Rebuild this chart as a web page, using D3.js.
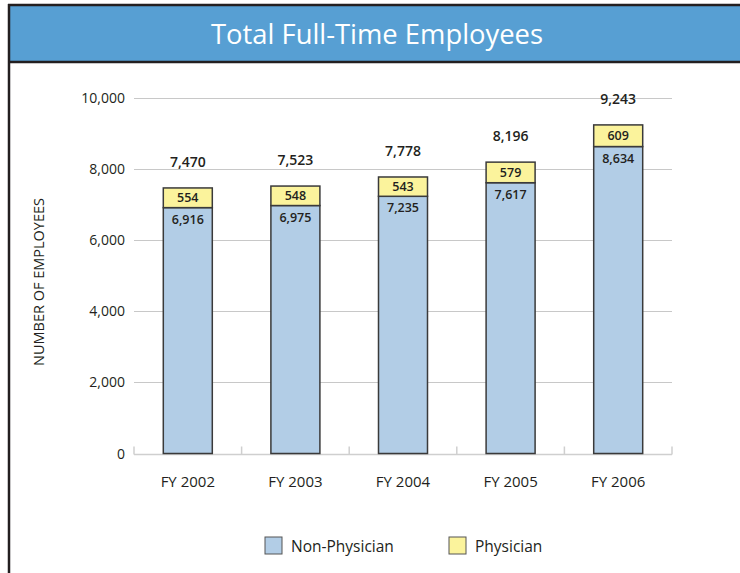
<!DOCTYPE html>
<html>
<head>
<meta charset="utf-8">
<script src="https://cdn.jsdelivr.net/npm/d3@7"></script>
<style>
html,body{margin:0;padding:0;background:#fff;}
svg{display:block;}
text{font-family:"Open Sans","Noto Sans",sans-serif;}
</style>
</head>
<body>
<svg id="chart" width="740" height="573"></svg>
<script>
const categories = ["FY 2002","FY 2003","FY 2004","FY 2005","FY 2006"];
const nonPhysician = [6916, 6975, 7235, 7617, 8634];
const physician = [554, 548, 543, 579, 609];
const totals = [7470, 7523, 7778, 8196, 9243];
const yTicks = [0, 2000, 4000, 6000, 8000, 10000];
const seriesNames = ["Non-Physician", "Physician"];
const seriesColors = ["#b2cde6", "#fbf39c"];

const svg = d3.select("#chart");
const W = 740, H = 573;

// frame
svg.append("rect").attr("x",8).attr("y",6).attr("width",W-8).attr("height",56).attr("fill","#579fd3");
svg.append("line").attr("x1",8).attr("x2",W).attr("y1",5).attr("y2",5).attr("stroke","#231f20").attr("stroke-width",2.5);
svg.append("line").attr("x1",8).attr("x2",W).attr("y1",62).attr("y2",62).attr("stroke","#231f20").attr("stroke-width",2.5);
svg.append("line").attr("x1",9).attr("x2",9).attr("y1",4).attr("y2",H).attr("stroke","#231f20").attr("stroke-width",2.5);
svg.append("text").attr("x",377).attr("y",44).attr("text-anchor","middle")
  .attr("fill","#fff").attr("font-size",28)
  .attr("textLength",332).attr("lengthAdjust","spacingAndGlyphs")
  .text("Total Full-Time Employees");

const x = d3.scaleBand().domain(categories).range([134, 672]).paddingInner(0).paddingOuter(0);
const y = d3.scaleLinear().domain([0, 10000]).range([453.5, 98]);
const barW = 49;

// gridlines
const gAxis = svg.append("g");
gAxis.selectAll("line.grid").data(yTicks.filter(d => d > 0)).join("line")
  .attr("x1",134).attr("x2",672).attr("y1",d=>Math.round(y(d))+0.5).attr("y2",d=>Math.round(y(d))+0.5)
  .attr("stroke","#c8c8c8").attr("stroke-width",1);
// y tick labels
gAxis.selectAll("text.yt").data(yTicks).join("text")
  .attr("x",125).attr("y",d=>y(d)+5).attr("text-anchor","end")
  .attr("font-size",14).attr("fill","#231f20").text(d=>d3.format(",")(d));
// baseline with ticks
const bl = Math.round(y(0))+0.5;
svg.append("line").attr("x1",134).attr("x2",672).attr("y1",bl).attr("y2",bl).attr("stroke","#cfcfcf").attr("stroke-width",1.5);
const bounds = categories.map(c => x(c)).concat([x(categories[categories.length-1]) + x.bandwidth()]);
svg.selectAll("line.bt").data(bounds).join("line")
  .attr("x1",d=>d).attr("x2",d=>d).attr("y1",bl).attr("y2",bl-8)
  .attr("stroke","#cfcfcf").attr("stroke-width",1.5);

// x labels
svg.selectAll("text.xl").data(categories).join("text")
  .attr("x",d=>x(d)+x.bandwidth()/2).attr("y",487).attr("text-anchor","middle")
  .attr("font-size",15).attr("fill","#231f20").text(d=>d);

// bars
const data = categories.map((c,i)=>({c, np:nonPhysician[i], p:physician[i], t:totals[i]}));
const bars = svg.append("g");
data.forEach(d => {
  const cx = x(d.c) + x.bandwidth()/2;
  const x0 = cx - barW/2;
  bars.append("rect").attr("x",x0).attr("y",y(d.np)).attr("width",barW).attr("height",y(0)-y(d.np))
    .attr("fill",seriesColors[0]).attr("stroke","#3a3a3a").attr("stroke-width",1.5);
  bars.append("rect").attr("x",x0).attr("y",y(d.np+d.p)).attr("width",barW).attr("height",y(d.np)-y(d.np+d.p))
    .attr("fill",seriesColors[1]).attr("stroke","#3a3a3a").attr("stroke-width",1.5);
  bars.append("text").attr("x",cx).attr("y",(y(d.np)+y(d.np+d.p))/2+4.5).attr("text-anchor","middle")
    .attr("font-size",12.5).attr("font-weight",600).attr("fill","#231f20").text(d3.format(",")(d.p));
  bars.append("text").attr("x",cx).attr("y",y(d.np)+16).attr("text-anchor","middle")
    .attr("font-size",12.5).attr("font-weight",600).attr("fill","#231f20").text(d3.format(",")(d.np));
  bars.append("text").attr("x",cx).attr("y",y(d.t)-21).attr("text-anchor","middle")
    .attr("font-size",14).attr("font-weight",600).attr("fill","#231f20").text(d3.format(",")(d.t));
});

// y axis title
svg.append("text").attr("transform","translate(44,282) rotate(-90)").attr("text-anchor","middle")
  .attr("font-size",14.5).attr("fill","#231f20").text("NUMBER OF EMPLOYEES");

// legend
const legX = [265, 449];
seriesNames.forEach((n,i) => {
  svg.append("rect").attr("x",legX[i]).attr("y",537).attr("width",17).attr("height",17)
    .attr("fill",seriesColors[i]).attr("stroke","#555").attr("stroke-width",1);
  svg.append("text").attr("x",legX[i]+26).attr("y",551.5).attr("font-size",15.5).attr("fill","#231f20").text(n);
});
</script>
</body>
</html>
